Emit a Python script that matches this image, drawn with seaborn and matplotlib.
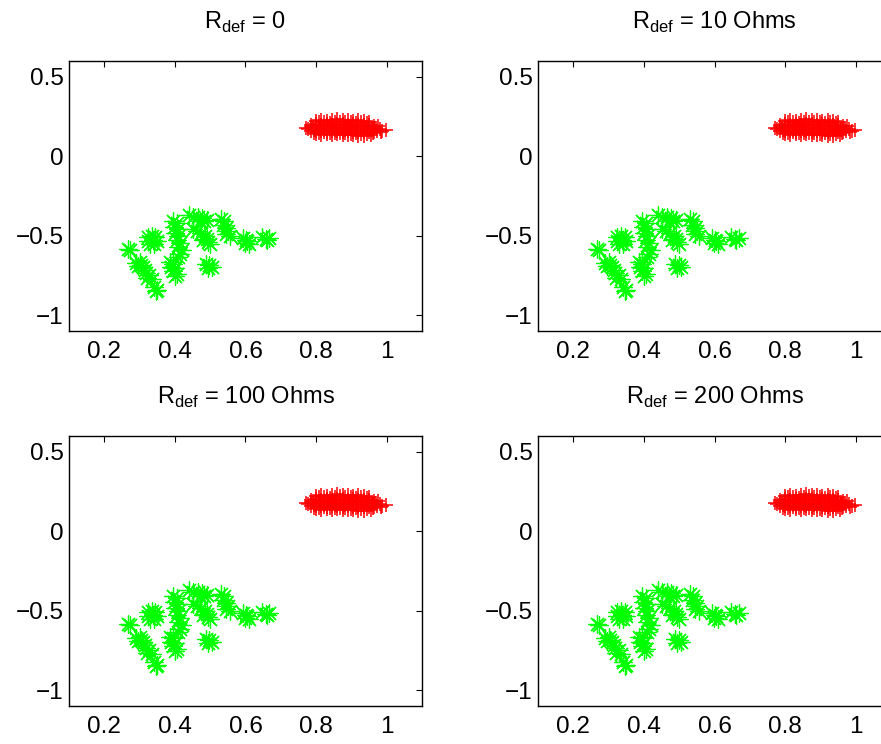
#!/usr/bin/env python3
# -*- coding: utf-8 -*-

import pandas as pd
import seaborn as sns
from matplotlib import pyplot as plt

# panel titles (subscript via mathtext)
TITLES = [r'R$_{\mathrm{def}}$ = 0', r'R$_{\mathrm{def}}$ = 10 Ohms',
          r'R$_{\mathrm{def}}$ = 100 Ohms', r'R$_{\mathrm{def}}$ = 200 Ohms']

X_TICKS = [0.2, 0.4, 0.6, 0.8, 1.0]
X_TICK_LABELS = ['0.2', '0.4', '0.6', '0.8', '1']
Y_TICKS = [-1.0, -0.5, 0.0, 0.5]
Y_TICK_LABELS = ['\u22121', '\u22120.5', '0', '0.5']

# green class (asterisks)
green_x = [0.268, 0.272,
           0.325, 0.335, 0.345, 0.325, 0.338, 0.348, 0.330, 0.340,
           0.290, 0.300, 0.305, 0.295, 0.310, 0.315,
           0.318, 0.328, 0.322, 0.335,
           0.342, 0.350, 0.346,
           0.395, 0.405, 0.398, 0.408, 0.400, 0.410, 0.405, 0.415, 0.410, 0.420,
           0.415, 0.410,
           0.385, 0.395, 0.390, 0.400, 0.395, 0.405, 0.400,
           0.440, 0.452, 0.465, 0.478, 0.490, 0.482, 0.470,
           0.452, 0.462, 0.475, 0.485, 0.490, 0.495, 0.500, 0.480,
           0.488, 0.498, 0.505, 0.495,
           0.530, 0.540, 0.535, 0.545, 0.550, 0.545, 0.555,
           0.592, 0.602, 0.598, 0.610, 0.605,
           0.648, 0.658, 0.668, 0.662]
green_y = [-0.585, -0.590,
           -0.510, -0.500, -0.510, -0.535, -0.530, -0.535, -0.550, -0.555,
           -0.670, -0.665, -0.685, -0.690, -0.700, -0.715,
           -0.735, -0.750, -0.765, -0.770,
           -0.820, -0.840, -0.850,
           -0.410, -0.420, -0.445, -0.460, -0.485, -0.500, -0.525, -0.545, -0.570,
           -0.590, -0.615, -0.635,
           -0.665, -0.675, -0.695, -0.705, -0.725, -0.740, -0.755,
           -0.370, -0.380, -0.385, -0.390, -0.400, -0.410, -0.405,
           -0.455, -0.470, -0.485, -0.500, -0.520, -0.540, -0.555, -0.530,
           -0.680, -0.685, -0.695, -0.705,
           -0.395, -0.410, -0.430, -0.450, -0.470, -0.490, -0.500,
           -0.515, -0.525, -0.545, -0.550, -0.535,
           -0.510, -0.520, -0.515, -0.530]

# red class (plus signs), elongated band around y = 0.18
red_x = [0.800, 0.815, 0.830, 0.845, 0.860, 0.875, 0.890, 0.905, 0.920, 0.935, 0.950,
         0.808, 0.823, 0.838, 0.853, 0.868, 0.883, 0.898, 0.913, 0.928, 0.943,
         0.785, 0.800, 0.815, 0.830, 0.845, 0.860, 0.875, 0.890, 0.905, 0.920,
         0.935, 0.950, 0.965, 0.975,
         0.792, 0.807, 0.822, 0.837, 0.852, 0.867, 0.882, 0.897, 0.912, 0.927,
         0.942, 0.957, 0.970,
         0.770, 0.785, 0.800, 0.815, 0.830, 0.845, 0.860, 0.875, 0.890, 0.905,
         0.920, 0.935, 0.950, 0.965, 0.980, 0.998,
         0.778, 0.793, 0.808, 0.823, 0.838, 0.853, 0.868, 0.883, 0.898, 0.913,
         0.928, 0.943, 0.958, 0.972, 0.988,
         0.785, 0.800, 0.815, 0.830, 0.845, 0.860, 0.875, 0.890, 0.905, 0.920,
         0.935, 0.950, 0.965, 0.985,
         0.795, 0.808, 0.823, 0.838, 0.853, 0.868, 0.883, 0.898, 0.913, 0.928,
         0.943, 0.960,
         0.800, 0.815, 0.830, 0.845, 0.860, 0.875, 0.890, 0.905, 0.920, 0.935,
         0.955]
red_y = [0.225, 0.230, 0.222, 0.228, 0.232, 0.226, 0.230, 0.224, 0.228, 0.222, 0.218,
         0.214, 0.218, 0.212, 0.216, 0.219, 0.214, 0.217, 0.212, 0.215, 0.210,
         0.200, 0.205, 0.198, 0.204, 0.200, 0.206, 0.202, 0.198, 0.204, 0.200,
         0.196, 0.198, 0.192, 0.190,
         0.190, 0.192, 0.188, 0.193, 0.189, 0.194, 0.190, 0.187, 0.191, 0.188,
         0.185, 0.184, 0.181,
         0.178, 0.182, 0.180, 0.176, 0.182, 0.178, 0.184, 0.180, 0.176, 0.182,
         0.178, 0.174, 0.176, 0.172, 0.170, 0.168,
         0.170, 0.168, 0.171, 0.167, 0.172, 0.168, 0.170, 0.166, 0.169, 0.165,
         0.166, 0.163, 0.164, 0.162, 0.161,
         0.160, 0.158, 0.162, 0.156, 0.160, 0.158, 0.154, 0.160, 0.156, 0.152,
         0.154, 0.150, 0.152, 0.155,
         0.148, 0.146, 0.150, 0.145, 0.148, 0.144, 0.147, 0.143, 0.145, 0.141,
         0.142, 0.144,
         0.140, 0.136, 0.142, 0.134, 0.138, 0.135, 0.132, 0.136, 0.130, 0.128,
         0.135]

# axes boxes in figure fractions (right column runs off the canvas, as in the source)
POSITIONS = [[0.0783, 0.5551, 0.4007, 0.3629],
             [0.6107, 0.5551, 0.4007, 0.3629],
             [0.0783, 0.0511, 0.4007, 0.3629],
             [0.6107, 0.0511, 0.4007, 0.3629]]


def draw_panel(ax, title, green, red):
    sns.scatterplot(data=green, x='x', y='y', ax=ax, marker=(8, 2, 0), s=160,
                    color='#00ff00', edgecolor='#00ff00', linewidth=0.9)
    sns.scatterplot(data=red, x='x', y='y', ax=ax, marker='+', s=110,
                    color='#ff0000', linewidth=1.1)
    ax.set_xlim(0.1, 1.1)
    ax.set_ylim(-1.1, 0.6)
    ax.set_xticks(X_TICKS)
    ax.set_xticklabels(X_TICK_LABELS)
    ax.set_yticks(Y_TICKS)
    ax.set_yticklabels(Y_TICK_LABELS)
    ax.set_xlabel('')
    ax.set_ylabel('')
    ax.tick_params(direction='in', length=4, width=0.8, top=True, right=True,
                   labelsize=17.5, colors='black')
    ax.tick_params(axis='x', pad=7)
    ax.tick_params(axis='y', pad=4)
    for sp in ax.spines.values():
        sp.set_visible(True)
        sp.set_linewidth(1.0)
        sp.set_color('black')
    ax.set_title(title, fontsize=17, pad=23, color='black')


def main():
    sns.set_style('white')
    plt.rcParams['font.family'] = ['Liberation Sans', 'DejaVu Sans']
    plt.rcParams['mathtext.fontset'] = 'custom'
    plt.rcParams['mathtext.rm'] = 'Liberation Sans'
    plt.rcParams['text.color'] = 'black'

    green = pd.DataFrame({'x': green_x, 'y': green_y})
    red = pd.DataFrame({'x': red_x, 'y': red_y})

    fig = plt.figure(figsize=(8.81, 7.44), dpi=100)
    for pos, title in zip(POSITIONS, TITLES):
        ax = fig.add_axes(pos)
        draw_panel(ax, title, green, red)

    fig.savefig('out.png', dpi=100, facecolor='white')


if __name__ == '__main__':
    main()
